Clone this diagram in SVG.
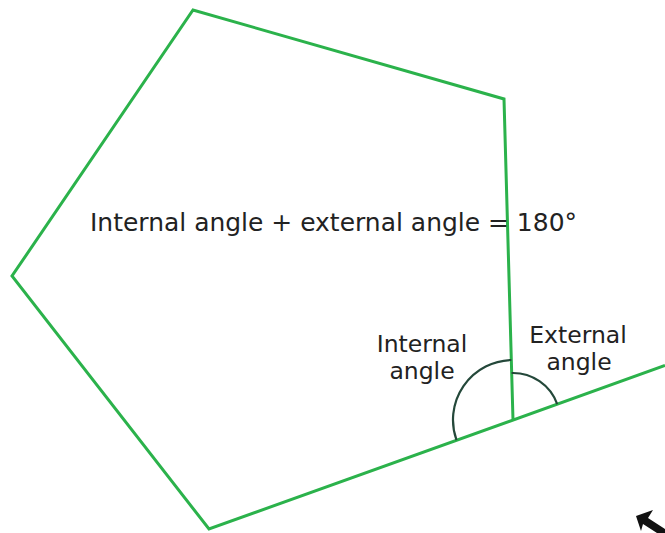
<svg xmlns="http://www.w3.org/2000/svg" width="665" height="533" viewBox="0 0 665 533">
<style>
.edge{fill:none;stroke:#2bb24b;stroke-width:3;stroke-linejoin:miter}
.arc{fill:none;stroke:#24483a;stroke-width:2.2}
text{font-family:"DejaVu Sans",sans-serif;font-size:23.5px;fill:#222}
.main{font-size:25px}
</style>
<rect width="665" height="533" fill="#fff"/>
<g id="pentagon">
<polyline class="edge" points="513,420 504,99 193,10 12,276 209,529 665,365.5"/>
</g>
<g id="connectors">
<path id="internal-arc" class="arc" d="M511.3,360 A60,60 0 0 0 456.5,440.2"/>
<path id="external-arc" class="arc" d="M511.6,373 A47,47 0 0 1 557.2,404.1"/>
</g>
<g id="labels">
<text class="main" x="90" y="231" textLength="487" lengthAdjust="spacingAndGlyphs">Internal angle + external angle = 180°</text>
<text x="422" y="352" text-anchor="middle">Internal</text>
<text x="422" y="379" text-anchor="middle">angle</text>
<text x="578" y="343" text-anchor="middle">External</text>
<text x="579" y="370" text-anchor="middle">angle</text>
</g>
<g id="arrow">
<polygon points="636,516 653,510 648,518 665,529 665,533 657,533 643,524 641,531" fill="#111"/>
</g>
</svg>
